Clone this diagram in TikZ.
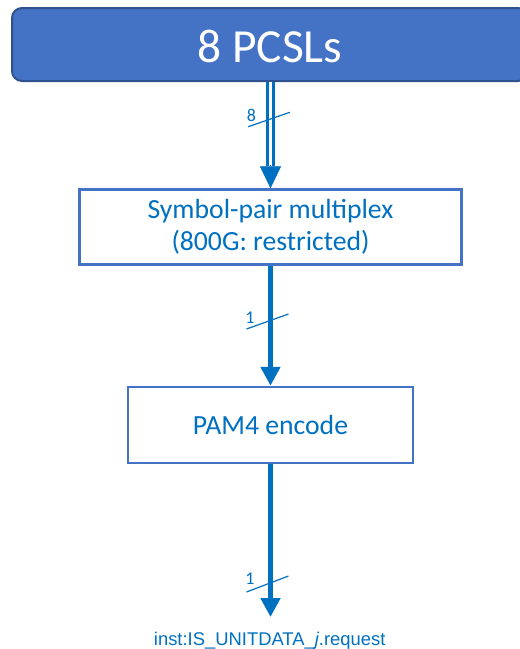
\documentclass[tikz,border=0pt]{standalone}
\usepackage{fontspec}
\setmainfont{Carlito}
\newfontfamily\labelfont{Liberation Sans}
\usetikzlibrary{arrows.meta,calc}
\definecolor{lineblue}{HTML}{0070C0}
\definecolor{boxblue}{HTML}{4472C4}
\definecolor{boxedge}{HTML}{2F528F}
\tikzset{
  lanebox/.style={draw=boxedge, line width=2pt, fill=boxblue, rounded corners=10pt,
    text=white, font=\fontsize{47.5}{50}\selectfont, inner sep=0pt},
  stagebox/.style={draw=boxblue, line width=2.5pt, fill=white, text=lineblue,
    font=\fontsize{27.7}{32}\selectfont, align=center, inner sep=0pt},
  flow/.style={draw=lineblue, line width=5pt,
    -{Triangle[length=19pt,width=19pt]}},
  dblflow/.style={draw=lineblue, line width=3.3pt, double=white, double distance=2.3pt},
  tiphead/.style={draw=lineblue, line width=0.5pt,
    -{Triangle[length=22pt,width=21pt]}},
  tick/.style={draw=lineblue, line width=1.2pt},
  ticklabel/.style={text=lineblue, font=\fontsize{18}{20}\selectfont, inner sep=0pt},
}
\begin{document}
\begin{tikzpicture}[x=1pt, y=-1pt]
\useasboundingbox (0,0) rectangle (520,649);
\clip (0,0) rectangle (520,649);

% lane source, stages and output
\node[lanebox, minimum width=516pt, minimum height=73pt] (pcsl) at (270,44.5) {};
\node[text=white, font=\fontsize{47.5}{50}\selectfont, anchor=base] (pcsltext) at (270,62) {8 PCSLs};
\node[stagebox, minimum width=382pt, minimum height=75pt] (mux) at (270.5,227.1)
  {Symbol-pair multiplex\\(800G: restricted)};
\node[stagebox, minimum width=285pt, minimum height=76pt] (pam) at (270.5,425) {PAM4 encode};
\coordinate (out) at (270.5,617);
\node[text=lineblue, font=\labelfont\fontsize{18.4}{20}\selectfont, anchor=base] (req)
  at (269.7,645) {inst:IS\_UNITDATA\_\textit{j}.request};

% 8 lanes into the multiplexer
\coordinate (dend) at ($(mux.north)+(0,-22)$);
\draw[dblflow] (pcsl.south -| mux.north) -- (dend);
\draw[tiphead] ($(mux.north)+(0,-23)$) -- (mux.north);
% 1 lane into the encoder and out
\draw[flow] (mux.south) -- (pam.north);
\draw[flow] (pam.south) -- (out);

% lane count marks
\coordinate (c1) at (270.5,119);
\draw[tick] ($(c1)+(-22.3,7.7)$) -- ($(c1)+(19.3,-6.7)$);
\node[ticklabel] (n1) at (251.5,115) {8};
\coordinate (c2) at (270.5,320.5);
\draw[tick] ($(c2)+(-24,8.5)$) -- ($(c2)+(18,-6.5)$);
\node[ticklabel] (n2) at (250,317.5) {1};
\coordinate (c3) at (270.5,583);
\draw[tick] ($(c3)+(-24,9)$) -- ($(c3)+(18,-7)$);
\node[ticklabel] (n3) at (250,579) {1};
\end{tikzpicture}
\end{document}
